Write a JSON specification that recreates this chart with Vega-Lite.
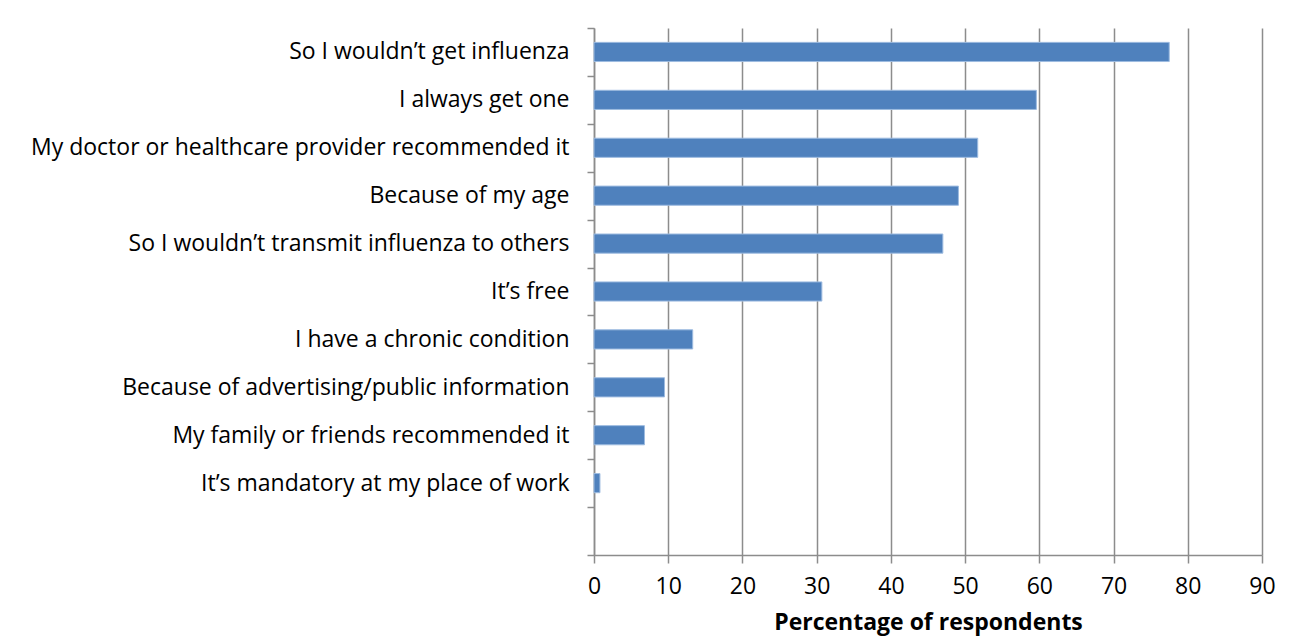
{
  "$schema": "https://vega.github.io/schema/vega-lite/v6.json",
  "autosize": {"type": "none"},
  "width": 668,
  "height": 527,
  "padding": {"left": 594, "top": 28, "right": 30, "bottom": 84},
  "background": "white",
  "config": {
    "view": {"stroke": null},
    "font": "Open Sans"
  },
  "data": {
    "values": [
      {"reason": "So I wouldn’t get influenza", "pct": 77.5},
      {"reason": "I always get one", "pct": 59.6},
      {"reason": "My doctor or healthcare provider recommended it", "pct": 51.7},
      {"reason": "Because of my age", "pct": 49.1},
      {"reason": "So I wouldn’t transmit influenza to others", "pct": 47.0},
      {"reason": "It’s free", "pct": 30.7},
      {"reason": "I have a chronic condition", "pct": 13.3},
      {"reason": "Because of advertising/public information", "pct": 9.5},
      {"reason": "My family or friends recommended it", "pct": 6.8},
      {"reason": "It’s mandatory at my place of work", "pct": 0.8}
    ]
  },
  "mark": {"type": "bar", "color": "#4F81BD", "stroke": "#9dbbe0", "strokeWidth": 1, "height": {"band": 0.4}},
  "encoding": {
    "y": {
      "field": "reason",
      "type": "nominal",
      "sort": null,
      "scale": {
        "domain": [
          "So I wouldn’t get influenza",
          "I always get one",
          "My doctor or healthcare provider recommended it",
          "Because of my age",
          "So I wouldn’t transmit influenza to others",
          "It’s free",
          "I have a chronic condition",
          "Because of advertising/public information",
          "My family or friends recommended it",
          "It’s mandatory at my place of work",
          " "
        ],
        "paddingInner": 0,
        "paddingOuter": 0
      },
      "axis": {
        "title": null,
        "tickBand": "extent",
        "tickSize": 7,
        "tickColor": "#8c8c8c",
        "tickWidth": 1.5,
        "domainColor": "#8c8c8c",
        "domainWidth": 1.5,
        "labelFontSize": 23,
        "labelColor": "#000000",
        "labelPadding": 18,
        "labelLimit": 600,
        "grid": false
      }
    },
    "x": {
      "field": "pct",
      "type": "quantitative",
      "scale": {"domain": [0, 90], "nice": false},
      "axis": {
        "title": "Percentage of respondents",
        "titleFontSize": 23,
        "titleFontWeight": "bold",
        "titleColor": "#000000",
        "titlePadding": 13,
        "values": [0, 10, 20, 30, 40, 50, 60, 70, 80, 90],
        "labelFlush": false,
        "tickSize": 8,
        "tickColor": "#8c8c8c",
        "tickWidth": 1.5,
        "domainColor": "#8c8c8c",
        "domainWidth": 1.5,
        "labelFontSize": 23,
        "labelColor": "#000000",
        "labelPadding": 12,
        "grid": true,
        "gridColor": "#8c8c8c",
        "gridWidth": 1.5
      }
    }
  }
}
